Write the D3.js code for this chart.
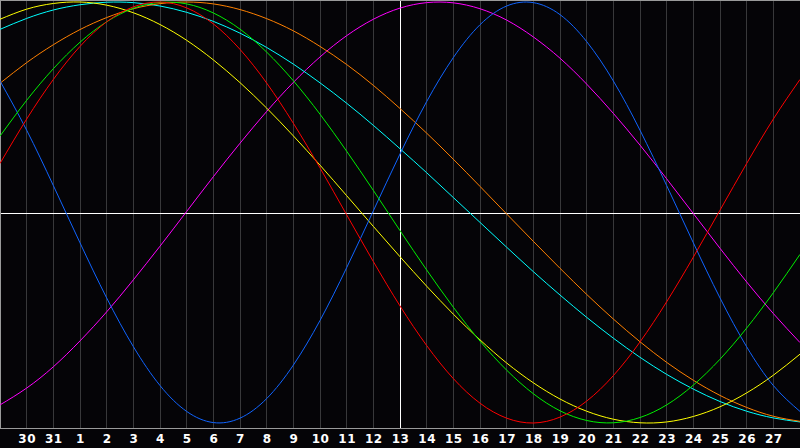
<!DOCTYPE html>
<html><head><meta charset="utf-8">
<script src="https://cdn.jsdelivr.net/npm/d3@7"></script>
<style>
html,body{margin:0;padding:0;background:#050407;overflow:hidden;}
svg{display:block;}
</style></head>
<body>
<script>
// Day labels under gridlines 1..29
const dayLabels = ["30","31","1","2","3","4","5","6","7","8","9","10","11","12","13","14","15","16","17","18","19","20","21","22","23","24","25","26","27"];
// Values read at each day column (index 0..30)
const blueVals = [0.625,0.391,0.128,-0.144,-0.406,-0.637,-0.822,-0.945,-0.998,-0.977,-0.884,-0.725,-0.513,-0.262,0.008,0.278,0.527,0.736,0.892,0.981,0.997,0.940,0.812,0.625,0.391,0.128,-0.144,-0.406,-0.638,-0.822,-0.945];
const redVals = [0.233,0.444,0.632,0.789,0.906,0.977,1.000,0.972,0.896,0.775,0.615,0.424,0.212,-0.011,-0.233,-0.444,-0.632,-0.789,-0.906,-0.977,-1.000,-0.972,-0.896,-0.775,-0.615,-0.424,-0.212,0.011,0.233,0.444,0.632];
const greenVals = [0.363,0.533,0.683,0.809,0.906,0.970,0.998,0.991,0.948,0.871,0.762,0.626,0.467,0.291,0.105,-0.086,-0.273,-0.450,-0.611,-0.749,-0.861,-0.942,-0.988,-0.999,-0.974,-0.914,-0.820,-0.697,-0.549,-0.381,-0.199];
const magentaVals = [-0.914,-0.834,-0.733,-0.610,-0.472,-0.320,-0.160,0.005,0.170,0.329,0.480,0.618,0.739,0.840,0.918,0.971,0.997,0.996,0.968,0.914,0.834,0.733,0.610,0.471,0.320,0.160,-0.005,-0.170,-0.330,-0.480,-0.618];
const yellowVals = [0.918,0.966,0.993,1.000,0.985,0.949,0.893,0.818,0.725,0.617,0.496,0.364,0.225,0.080,-0.066,-0.210,-0.350,-0.483,-0.605,-0.715,-0.809,-0.886,-0.944,-0.982,-0.999,-0.995,-0.969,-0.923,-0.857,-0.773,-0.673];
const cyanVals = [0.870,0.922,0.962,0.987,0.999,0.997,0.981,0.951,0.908,0.852,0.784,0.705,0.616,0.519,0.414,0.303,0.189,0.071,-0.047,-0.165,-0.281,-0.392,-0.498,-0.597,-0.688,-0.769,-0.839,-0.898,-0.944,-0.976,-0.995];
const orangeVals = [0.614,0.712,0.797,0.869,0.926,0.968,0.992,1.000,0.991,0.964,0.921,0.863,0.789,0.703,0.604,0.494,0.377,0.253,0.124,-0.007,-0.137,-0.265,-0.389,-0.506,-0.614,-0.712,-0.797,-0.869,-0.926,-0.968,-0.992];

const seriesList = [
  {name:"magenta", color:"#ff00ff", values:magentaVals},
  {name:"cyan", color:"#00ffff", values:cyanVals},
  {name:"orange", color:"#ff8000", values:orangeVals},
  {name:"yellow", color:"#ffff00", values:yellowVals},
  {name:"blue", color:"#1064ff", values:blueVals},
  {name:"green", color:"#00ee00", values:greenVals},
  {name:"red", color:"#ff0000", values:redVals}
];

const W = 800, H = 448;
const svg = d3.select("body").append("svg").attr("width", W).attr("height", H);
svg.append("rect").attr("width", W).attr("height", H).attr("fill", "#050407");

const x = d3.scaleLinear().domain([0, 30]).range([0, 800]);
const y = d3.scaleLinear().domain([-1, 1]).range([423, 2]);
const plotBottom = 428;

// gridlines
const gridIdx = d3.range(1, 30);
svg.append("g").selectAll("line").data(gridIdx).join("line")
  .attr("x1", d => Math.floor(x(d)) + 0.5).attr("x2", d => Math.floor(x(d)) + 0.5)
  .attr("y1", 0).attr("y2", plotBottom)
  .attr("stroke", d => d === 15 ? "#ffffff" : "#38383a")
  .attr("stroke-width", 1).attr("shape-rendering", "crispEdges");

// midline
svg.append("line").attr("x1", 0).attr("x2", W)
  .attr("y1", Math.round(y(0)) + 0.5).attr("y2", Math.round(y(0)) + 0.5)
  .attr("stroke", "#ffffff").attr("shape-rendering", "crispEdges");

// borders
svg.append("line").attr("x1", 0).attr("x2", W).attr("y1", 0.5).attr("y2", 0.5).attr("stroke", "#9a9a9a").attr("shape-rendering","crispEdges");
svg.append("line").attr("x1", 0.5).attr("x2", 0.5).attr("y1", 0).attr("y2", plotBottom).attr("stroke", "#9a9a9a").attr("shape-rendering","crispEdges");
svg.append("line").attr("x1", 0).attr("x2", W).attr("y1", plotBottom + 0.5).attr("y2", plotBottom + 0.5).attr("stroke", "#9a9a9a").attr("shape-rendering","crispEdges");

// curves
const line = d3.line().x((d, i) => x(i)).y(d => y(d)).curve(d3.curveNatural);
svg.append("g").selectAll("path").data(seriesList).join("path")
  .attr("d", d => line(d.values))
  .attr("fill", "none").attr("stroke", d => d.color).attr("stroke-width", 1);

// axis labels
const xAxis = d3.axisBottom(x).tickValues(gridIdx).tickSize(0).tickPadding(0)
  .tickFormat(d => dayLabels[d - 1]);
const ax = svg.append("g").attr("transform", `translate(0,${plotBottom})`).call(xAxis);
ax.select(".domain").remove();
ax.selectAll("text").attr("fill", "#ffffff").attr("font-family", "DejaVu Sans, sans-serif")
  .attr("font-weight", "bold").attr("font-size", "12px").attr("letter-spacing", "0.5px")
  .attr("dy", null).attr("y", 15);
</script>
</body></html>
